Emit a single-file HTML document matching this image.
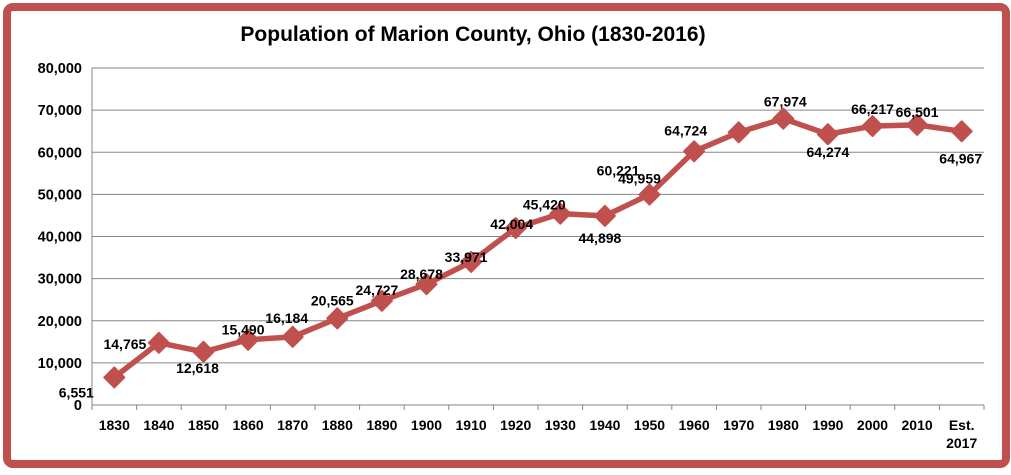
<!DOCTYPE html>
<html><head><meta charset="utf-8"><style>
body{margin:0;width:1011px;height:470px;background:#fff;overflow:hidden;font-family:"Liberation Sans",sans-serif}
</style></head><body>
<svg id="chart" width="1011" height="470" xmlns="http://www.w3.org/2000/svg">
<rect x="7" y="7" width="999" height="457" rx="6" fill="#fff" stroke="#C0504D" stroke-width="8"/>
<text x="473" y="41" text-anchor="middle" font-size="21" font-weight="bold" fill="#000">Population of Marion County, Ohio (1830-2016)</text>
<g id="grid"></g><g id="axes"></g><g id="series"></g><g id="labels"></g>
</svg>
<script>
const categories=["1830","1840","1850","1860","1870","1880","1890","1900","1910","1920","1930","1940","1950","1960","1970","1980","1990","2000","2010","Est.|2017"];
const population=[6551,14765,12618,15490,16184,20565,24727,28678,33971,42004,45420,44898,49959,60221,64724,67974,64274,66217,66501,64967];
const yTicks=[0,10000,20000,30000,40000,50000,60000,70000,80000];
const labelDx=[-38,-34,-6,-5,-6,-5,-5,-5,-5,-4,-16,-5,-10,-76,-53,2,0,0,0,-1];
const labelDy=[20,6,21,-5,-14,-13,-6,-5,0,1,-4,27,-11,24,3,-12,23,-12,-8,32];
const NS="http://www.w3.org/2000/svg";
const x0=92,x1=984,y0=405,y1=68,yMax=80000;
const bw=(x1-x0)/categories.length;
const X=i=>x0+bw*(i+0.5);
const Y=v=>y0-(v/yMax)*(y0-y1);
function mk(t,a,p){const e=document.createElementNS(NS,t);for(const k in a)e.setAttribute(k,a[k]);p.appendChild(e);return e;}
const grid=document.getElementById('grid'),axes=document.getElementById('axes'),ser=document.getElementById('series'),lab=document.getElementById('labels');
yTicks.forEach(v=>{
 if(v>0){const l=mk('line',{x1:x0,x2:x1,y1:Y(v),y2:Y(v),stroke:'#868686','stroke-width':1},grid);
 
 }
 const t=mk('text',{x:x0-10,y:Y(v)+5,'text-anchor':'end','font-size':14.5,'font-weight':'bold'},axes);
 t.textContent=v.toLocaleString('en-US');
 
 
});
const ax=mk('line',{x1:x0,x2:x1,y1:y0,y2:y0,stroke:'#868686'},axes);


const ay=mk('line',{x1:x0,x2:x0,y1:y1,y2:y0,stroke:'#868686'},axes);


for(let i=0;i<=categories.length;i++){mk('line',{x1:x0+bw*i,x2:x0+bw*i,y1:y0,y2:y0+5,stroke:'#868686'},axes);}
categories.forEach((c,i)=>{
 const t=mk('text',{x:X(i),y:430,'text-anchor':'middle','font-size':14,'font-weight':'bold'},axes);
 const parts=c.split('|');
 parts.forEach((p,j)=>{const s=mk('tspan',{x:X(i),dy:j?18:0},t);s.textContent=p;});
 
 
});
const pl=mk('polyline',{points:population.map((v,i)=>X(i)+','+Y(v)).join(' '),fill:'none',stroke:'#C0504D','stroke-width':5.5,'stroke-linejoin':'round'},ser);


population.forEach((v,i)=>{
 const cx=X(i),cy=Y(v),r=10;
 const d=mk('polygon',{points:`${cx},${cy-r} ${cx+r},${cy} ${cx},${cy+r} ${cx-r},${cy}`,fill:'#C0504D',stroke:'#C0504D','stroke-width':2,'stroke-linejoin':'round'},ser);
 
 
 const t=mk('text',{x:cx+labelDx[i],y:cy+labelDy[i],'text-anchor':'middle','font-size':14,'font-weight':'bold'},lab);
 t.textContent=v.toLocaleString('en-US');
 
 
});
</script>
</body></html>
